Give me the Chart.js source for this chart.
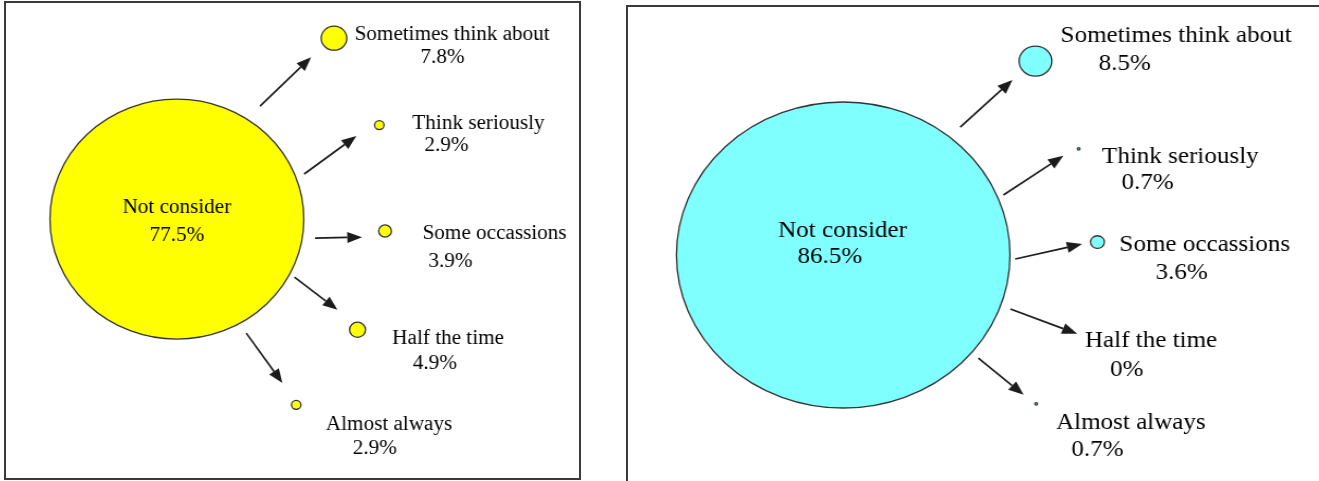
<!DOCTYPE html>
<html>
<head>
<meta charset="utf-8">
<script src="https://cdn.jsdelivr.net/npm/chart.js@4.4.1/dist/chart.umd.min.js"></script>
<style>
  html, body { margin: 0; padding: 0; background: #fff; overflow: hidden; }
  body { width: 1319px; height: 481px; position: relative; }
  .panel { position: absolute; border: 2px solid #3a3a3a; box-sizing: border-box; overflow: hidden; background: #fff; }
  canvas { position: absolute; left: 0; top: 0; transform-origin: 0 0; }
</style>
</head>
<body>
<div class="panel" style="left:4px;top:1px;width:577px;height:479px;">
  <canvas id="chartA"></canvas>
</div>
<div class="panel" style="left:626px;top:5px;width:700px;height:500px;">
  <canvas id="chartB"></canvas>
</div>
<script>
const categories = ['Not consider', 'Sometimes think about', 'Think seriously', 'Some occassions', 'Half the time', 'Almost always'];
const shareA = [77.5, 7.8, 2.9, 3.9, 4.9, 2.9];
const shareB = [86.5, 8.5, 0.7, 3.6, 0, 0.7];

// layout: percent of each panel's inner box, 0 = left / top
const bubbleXA = [29.8, 57.2, 65.1, 66.1, 61.3, 50.6];
const bubbleYA = [45.5, 7.4, 25.7, 48.0, 68.8, 84.6];
const nameXA = [29.8, 77.8, 82.4, 85.2, 77.1, 66.8];
const nameYA = [42.7, 6.2, 25.0, 48.2, 70.3, 88.3];
const valueXA = [29.8, 76.1, 76.8, 77.5, 74.8, 64.3];
const valueYA = [48.5, 11.2, 29.6, 54.0, 75.6, 93.5];
const arrowsA = [
  [44.3, 21.7, 53.2, 11.4],
  [52.0, 36.0, 61.1, 28.0],
  [53.9, 49.5, 62.1, 49.3],
  [50.3, 57.7, 57.8, 64.6],
  [41.9, 69.5, 48.2, 80.0]
];

const bubbleXB = [30.9, 58.5, 64.7, 67.4, 65.2, 58.6];
const bubbleYB = [50.0, 10.9, 28.6, 47.4, 63.5, 80.0];
const nameXB = [30.8, 78.7, 79.3, 82.8, 75.1, 72.2];
const nameYB = [44.8, 5.4, 29.8, 47.6, 67.0, 83.4];
const valueXB = [29.0, 71.3, 74.6, 79.5, 71.6, 67.4];
const valueYB = [50.0, 11.1, 35.0, 53.2, 72.8, 88.9];
const arrowsB = [
  [47.7, 24.2, 55.2, 14.7],
  [53.9, 37.9, 62.5, 30.0],
  [55.6, 50.8, 65.2, 47.8],
  [54.9, 60.9, 64.5, 65.9],
  [50.3, 70.8, 56.8, 78.2]
];

function annotate(values, lay) {
  return {
    id: 'annotate',
    afterDatasetsDraw(chart) {
      const ctx = chart.ctx;
      const sx = chart.scales.x, sy = chart.scales.y;
      ctx.save();
      ctx.strokeStyle = '#1c1c1c';
      ctx.fillStyle = '#1c1c1c';
      ctx.lineWidth = 1.7;
      lay.arrows.forEach(a => {
        const x1 = sx.getPixelForValue(a[0]), y1 = sy.getPixelForValue(a[1]);
        const x2 = sx.getPixelForValue(a[2]), y2 = sy.getPixelForValue(a[3]);
        const ang = Math.atan2(y2 - y1, x2 - x1);
        const head = 14, half = 5.5;
        const bx = x2 - head * Math.cos(ang), by = y2 - head * Math.sin(ang);
        ctx.beginPath();
        ctx.moveTo(x1, y1);
        ctx.lineTo(bx, by);
        ctx.stroke();
        ctx.beginPath();
        ctx.moveTo(x2, y2);
        ctx.lineTo(bx + half * Math.sin(ang), by - half * Math.cos(ang));
        ctx.lineTo(bx - half * Math.sin(ang), by + half * Math.cos(ang));
        ctx.closePath();
        ctx.fill();
      });
      ctx.font = lay.fontSize + 'px "Liberation Serif", "Times New Roman", serif';
      ctx.textAlign = 'center';
      ctx.textBaseline = 'middle';
      ctx.fillStyle = '#000';
      const dy = 2; // 'middle' sits a little above cap centre
      categories.forEach((c, i) => {
        ctx.fillText(c, sx.getPixelForValue(lay.nameX[i]), sy.getPixelForValue(lay.nameY[i]) + dy);
        ctx.fillText(values[i] + '%', sx.getPixelForValue(lay.valueX[i]), sy.getPixelForValue(lay.valueY[i]) + dy);
      });
      ctx.restore();
    }
  };
}

function makePanel(canvasId, values, lay) {
  const canvas = document.getElementById(canvasId);
  const w = Math.round(lay.innerW / lay.stretch);
  canvas.width = w;
  canvas.height = lay.innerH;
  canvas.style.width = w + 'px';
  canvas.style.height = lay.innerH + 'px';
  canvas.style.transform = 'scaleX(' + lay.stretch + ')';

  const points = values.map((v, i) => ({ x: lay.bubbleX[i], y: lay.bubbleY[i], r: v * lay.k }));

  return new Chart(canvas, {
    type: 'bubble',
    data: {
      datasets: [{
        data: points,
        backgroundColor: lay.color,
        borderColor: '#333',
        borderWidth: 1.3,
        hoverRadius: 0,
        clip: false
      }]
    },
    options: {
      responsive: false,
      animation: false,
      events: [],
      layout: { padding: 0, autoPadding: false },
      scales: {
        x: { type: 'linear', min: 0, max: 100, display: false },
        y: { type: 'linear', min: 0, max: 100, reverse: true, display: false }
      },
      plugins: { legend: { display: false }, tooltip: { enabled: false } }
    },
    plugins: [annotate(values, lay)]
  });
}

makePanel('chartA', shareA, {
  innerW: 573, innerH: 475, stretch: 1.058, k: 1.548, fontSize: 20, color: '#ffff00',
  bubbleX: bubbleXA, bubbleY: bubbleYA, nameX: nameXA, nameY: nameYA,
  valueX: valueXA, valueY: valueYA, arrows: arrowsA
});

makePanel('chartB', shareB, {
  innerW: 696, innerH: 496, stretch: 1.09, k: 1.769, fontSize: 23, color: '#80ffff',
  bubbleX: bubbleXB, bubbleY: bubbleYB, nameX: nameXB, nameY: nameYB,
  valueX: valueXB, valueY: valueYB, arrows: arrowsB
});
</script>
</body>
</html>
